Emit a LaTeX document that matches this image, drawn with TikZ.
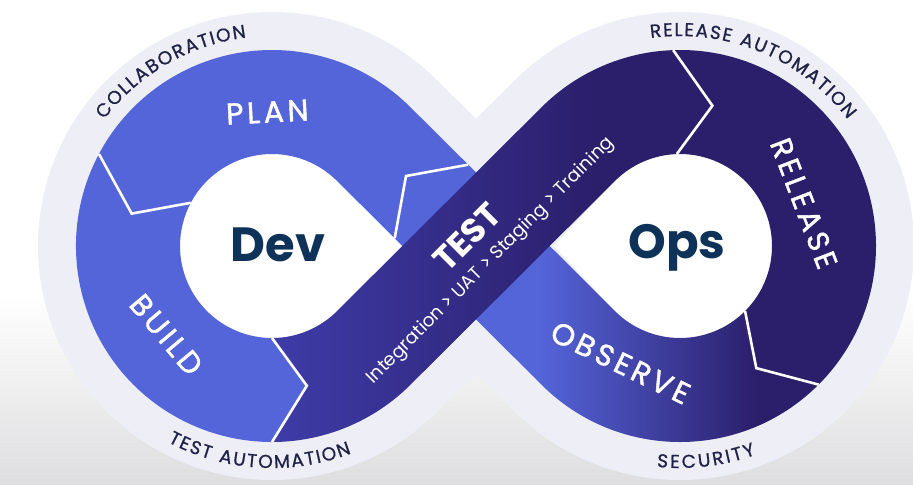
\documentclass[tikz,border=0pt]{standalone}
\usepackage{fontspec}
\newfontfamily\popfont{Poppins}
\newfontfamily\labfont[LetterSpace=12,FakeBold=1.4]{Poppins}
\newfontfamily\ringfont[LetterSpace=4,FakeBold=0.8]{Poppins}
\usetikzlibrary{calc,decorations.text}

\definecolor{bandlight}{RGB}{238,238,247}
\definecolor{planblue}{RGB}{84,100,217}
\definecolor{testblue}{RGB}{62,60,168}
\definecolor{indigo}{RGB}{43,30,106}
\definecolor{devnavy}{RGB}{14,50,88}
\definecolor{ringnavy}{RGB}{32,34,72}

\newcommand{\rout}{196}
\newcommand{\rin}{92}
\newcommand{\rmid}{144}

\begin{document}
\begin{tikzpicture}[x=0.5pt,y=0.5pt,
  divider/.style={draw=white,line width=1.3pt,line join=miter},
  biglabel/.style={text=white,font=\labfont\fontsize{15}{15}\selectfont,inner sep=0pt},
  hole/.style={font=\popfont\bfseries\fontsize{24}{24}\selectfont,text=devnavy},
  ringlabel/.style={decorate,decoration={text along path,text align={fit to path},
    text={|\ringfont\fontsize{9.3}{10}\selectfont\color{ringnavy}|#1}}}]
  \useasboundingbox (0,0) rectangle (913,484);
  \fill[white] (0,0) rectangle (913,484);
  \shade[top color=white,bottom color={rgb,255:red,222;green,222;blue,224}] (0,0) rectangle (913,190);

  \coordinate (O) at (476,238);
  \coordinate (L) at (272,238);
  \coordinate (R) at (680,238);
  \coordinate (OPo) at ($(O)+(135:63)+(45:52)$);
  \coordinate (OPt) at ($(O)+(135:99)$);
  \coordinate (OPi) at ($(O)+(135:63)+(-135:52)$);

  % halo and holes
  \draw[bandlight,line width=90pt,line join=round] ($(L)+(45:\rmid)$)
    arc[start angle=45,end angle=315,radius=\rmid] -- ($(R)+(135:\rmid)$)
    arc[start angle=135,end angle=-135,radius=\rmid] -- cycle;
  \fill[white] ($(L)+(45:\rin)$) arc[start angle=45,end angle=315,radius=\rin] -- (402,238) -- cycle;
  \fill[white] ($(R)+(135:\rin)$) arc[start angle=135,end angle=-135,radius=\rin] -- (554,238) -- cycle;

  % observe
  \begin{scope}
    \clip ($(R)+(-45:\rout)$) arc[start angle=-45,end angle=-135,radius=\rout]
      -- (OPi) -- (OPt) -- (OPo) -- ($(R)+(-135:\rin)$)
      arc[start angle=-135,end angle=-45,radius=\rin] -- ($(R)+(-58:\rmid)$) -- cycle;
    \fill[planblue] (380,30) rectangle (540,340);
    \shade[left color=planblue,right color=indigo] (540,30) rectangle (760,340);
    \fill[indigo] (760,30) rectangle (830,340);
  \end{scope}

  % test
  \begin{scope}
    \clip ($(L)+(270:\rout)$) arc[start angle=270,end angle=315,radius=\rout]
      -- ($(R)+(135:\rin)$) arc[start angle=135,end angle=92,radius=\rin]
      -- ($(R)+(77:\rmid)$) -- ($(R)+(92:\rout)$)
      arc[start angle=92,end angle=135,radius=\rout] -- ($(L)+(315:\rin)$)
      arc[start angle=315,end angle=270,radius=\rin] -- ($(L)+(284:\rmid)$) -- cycle;
    \shade[left color=testblue,right color=indigo] (270,30) rectangle (600,480);
    \fill[indigo] (600,30) rectangle (720,480);
  \end{scope}

  % plan, build, release
  \fill[planblue] (OPo) -- ($(L)+(45:\rout)$) arc[start angle=45,end angle=152,radius=\rout]
    -- ($(L)+(167:\rmid)$) -- ($(L)+(152:\rin)$) arc[start angle=152,end angle=45,radius=\rin]
    -- (OPi) -- (OPt) -- cycle;
  \fill[planblue] ($(L)+(152:\rout)$) arc[start angle=152,end angle=270,radius=\rout]
    -- ($(L)+(284:\rmid)$) -- ($(L)+(270:\rin)$) arc[start angle=270,end angle=152,radius=\rin]
    -- ($(L)+(167:\rmid)$) -- cycle;
  \fill[indigo] ($(R)+(92:\rout)$) arc[start angle=92,end angle=-45,radius=\rout]
    -- ($(R)+(-58:\rmid)$) -- ($(R)+(-45:\rin)$) arc[start angle=-45,end angle=92,radius=\rin]
    -- ($(R)+(77:\rmid)$) -- cycle;

  \draw[divider] ($(L)+(152:\rout)$) -- ($(L)+(167:\rmid)$) -- ($(L)+(152:\rin)$);
  \draw[divider] ($(L)+(270:\rin)$) -- ($(L)+(284:\rmid)$) -- ($(L)+(270:\rout)$);
  \draw[divider] ($(R)+(92:\rout)$) -- ($(R)+(77:\rmid)$) -- ($(R)+(92:\rin)$);
  \draw[divider] ($(R)+(-45:\rin)$) -- ($(R)+(-58:\rmid)$) -- ($(R)+(-45:\rout)$);
  \draw[divider] (OPo) -- (OPt) -- (OPi);

  \node[hole] (DEV) at (278,239) {Dev};
  \node[hole] (OPS) at (677,236) {Ops};
  \node[biglabel,rotate=3] (PLAN) at ($(L)+(92:134)$) {PLAN};
  \node[biglabel,rotate=-50] (BUILD) at ($(L)+(220:138)$) {BUILD};
  \node[biglabel,rotate=-69] (RELEASE) at ($(R)+(19:131)$) {RELEASE};
  \node[biglabel,rotate=-26] (OBSERVE) at ($(R)+(243:131)$) {OBSERVE};
  \node[text=white,rotate=45,inner sep=0pt,font=\popfont\bfseries\fontsize{17}{17}\selectfont] (TEST) at ($(O)+(135:13)$) {TEST};
  \node[text=white,rotate=45,inner sep=0pt,font=\popfont\fontsize{9.2}{9.2}\selectfont] (STAGES) at ($(O)+(-45:21)$) {Integration > UAT > Staging > Training};

  \path[ringlabel=COLLABORATION] ($(L)+(143:210)$) arc[start angle=143,end angle=97,radius=210];
  \path[ringlabel=TEST AUTOMATION] ($(L)+(242:222)$) arc[start angle=242,end angle=291,radius=222];
  \path[ringlabel=RELEASE AUTOMATION] ($(R)+(98:210)$) arc[start angle=98,end angle=37,radius=210];
  \path[ringlabel=SECURITY] ($(R)+(264:222)$) arc[start angle=264,end angle=290,radius=222];
\end{tikzpicture}
\end{document}
